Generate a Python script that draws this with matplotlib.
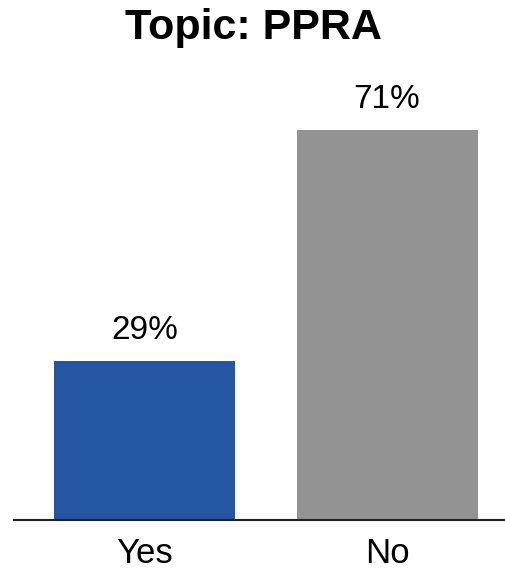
import matplotlib
matplotlib.use("Agg")
import matplotlib.pyplot as plt

categories = ["Yes", "No"]
shares = [29, 71]
bar_colors = ["#2456a4", "#939393"]

plt.rcParams['font.family'] = ['Liberation Sans', 'DejaVu Sans']

fig = plt.figure(figsize=(5.06, 5.71), dpi=100)
# axes spans the baseline from x=14px to the right edge; baseline at 520px from top
ax = fig.add_axes([14 / 506, 51 / 571, 492 / 506, 439 / 571])

x = range(len(categories))
bars = ax.bar(x, shares, width=0.746, color=bar_colors)

for b, v in zip(bars, shares):
    ax.text(b.get_x() + b.get_width() / 2, v + 4.0, f"{v}%",
            ha="center", va="baseline", fontsize=24)

ax.set_xlim(-0.538, 1.49)
ax.set_ylim(0, 80)
ax.set_xticks(list(x))
ax.set_xticklabels(categories, fontsize=25)
ax.tick_params(axis="x", length=0, pad=12)
ax.set_yticks([])
for side in ["top", "left", "right"]:
    ax.spines[side].set_visible(False)
ax.spines["bottom"].set_linewidth(1.5)
ax.spines["bottom"].set_color("#222222")

fig.text(0.5, 1 - 28 / 571, "Topic: PPRA", ha="center", va="center",
         fontsize=31, fontweight="bold")

fig.savefig("out.png", dpi=100)
